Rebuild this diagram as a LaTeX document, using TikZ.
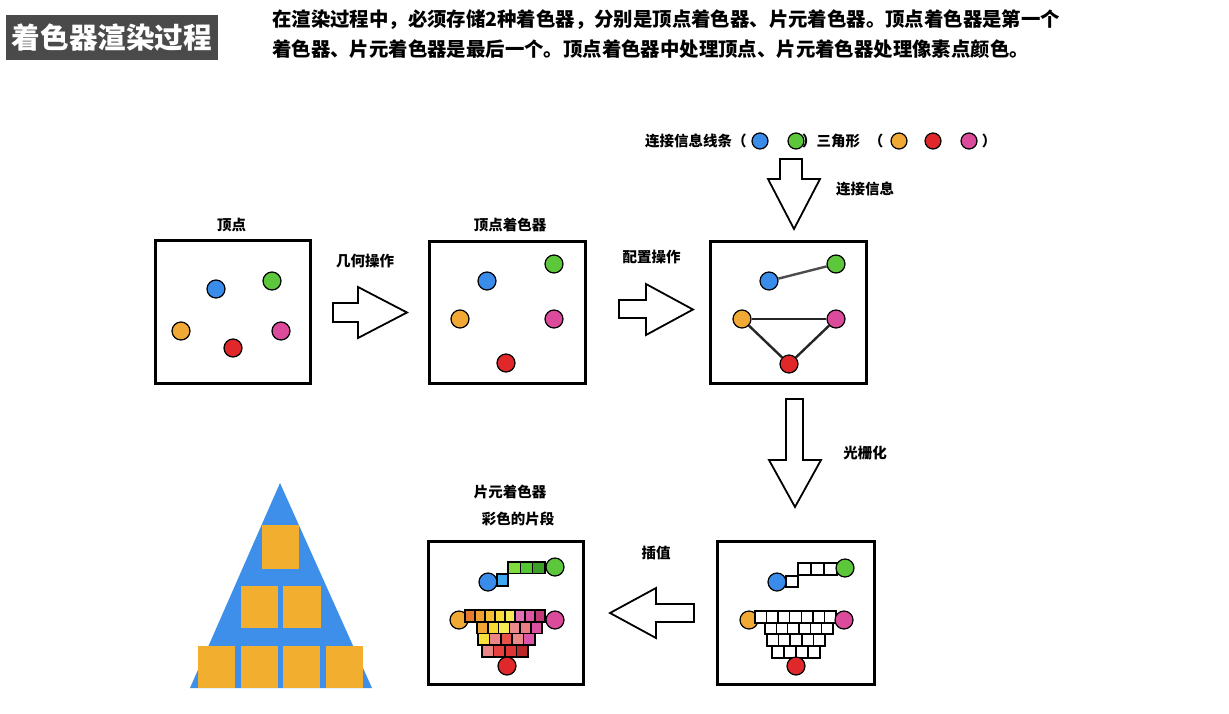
\documentclass[tikz,border=0pt]{standalone}
\usepackage{fontspec}
\setmainfont{Noto Sans CJK SC}
\definecolor{cblue}{HTML}{3A8CEA}
\definecolor{cgreen}{HTML}{5CC73A}
\definecolor{corange}{HTML}{F0A935}
\definecolor{cred}{HTML}{E0282B}
\definecolor{cpink}{HTML}{DC4A9C}
\definecolor{tblue}{HTML}{3D8FE9}
\definecolor{torange}{HTML}{F2AE2E}
\definecolor{titlegray}{HTML}{4A4A4A}
\begin{document}
\begin{tikzpicture}[x=1pt,y=-1pt,
  frame/.style={draw=black,line width=3pt,inner sep=0pt},
  vtx/.style={circle,draw=black,line width=1.2pt,minimum size=18pt,inner sep=0pt},
  lvtx/.style={vtx,minimum size=16pt},
  lbl/.style={font=\bfseries\fontsize{14.5}{16}\selectfont,inner sep=0pt},
  desc/.style={font=\bfseries\fontsize{19.4}{22}\selectfont,inner sep=0pt,anchor=west},
  blk/.style={draw=black,line width=1.8pt,fill=white,line join=miter},
  frag/.style={draw=black,line width=1.5pt},
  edge/.style={line width=2.4pt,draw=black!85}
]
\useasboundingbox (0,0) rectangle (1229,713);
\fill[white] (0,0) rectangle (1229,713);

% title
\node[fill=titlegray,minimum width=212pt,minimum height=45pt,inner sep=0pt,text=white,
  font=\bfseries\fontsize{28.6}{30}\selectfont] (title) at (112,37.5) {着色器渲染过程};
\node[desc] (d1) at (272,20) {在渲染过程中，必须存储2种着色器，分别是顶点着色器、片元着色器。顶点着色器是第一个};
\node[desc] (d2) at (272,49) {着色器、片元着色器是最后一个。顶点着色器中处理顶点、片元着色器处理像素点颜色。};

% frames
\node[frame,minimum width=155pt,minimum height=143pt] (b1) at (232.5,311.5) {};
\node[frame,minimum width=156pt,minimum height=142pt] (b2) at (507,312) {};
\node[frame,minimum width=156pt,minimum height=142pt] (b3) at (788,312) {};
\node[frame,minimum width=157pt,minimum height=143pt] (b4) at (796,612.5) {};
\node[frame,minimum width=155pt,minimum height=143pt] (b5) at (506,612.5) {};

% labels
\node[lbl] (l1) at (231.5,225) {顶点};
\node[lbl] (l2) at (510,225) {顶点着色器};
\node[lbl] (l3) at (365,261) {几何操作};
\node[lbl] (l4) at (651.5,257) {配置操作};
\node[lbl] (l5) at (865,189) {连接信息};
\node[lbl] (l6) at (865,453) {光栅化};
\node[lbl] (l7) at (656,553) {插值};
\node[lbl] (l8) at (510,492) {片元着色器};
\node[lbl] (l9) at (518,519) {彩色的片段};

% legend
\node[lbl,anchor=west] (lg1) at (645,141) {连接信息线条（};
\node[lvtx,fill=cblue] (lgb) at (760,141) {};
\node[lvtx,fill=cgreen] (lgg) at (796,141) {};
\node[lbl,anchor=west] (lg2) at (802,141) {）三角形};
\node[lbl] (lg3) at (876,141) {（};
\node[lvtx,fill=corange] (lgo) at (899,141) {};
\node[lvtx,fill=cred] (lgr) at (933,141) {};
\node[lvtx,fill=cpink] (lgp) at (969,141) {};
\node[lbl] (lg4) at (989,141) {）};

% box1 vertices
\node[vtx,fill=cblue] (a1) at (216,289) {};
\node[vtx,fill=cgreen] (a2) at (272,281) {};
\node[vtx,fill=corange] (a3) at (181,331) {};
\node[vtx,fill=cred] (a4) at (233,348) {};
\node[vtx,fill=cpink] (a5) at (281,331) {};

% box2 vertices
\node[vtx,fill=cblue] (c1) at (487,281) {};
\node[vtx,fill=cgreen] (c2) at (554,264) {};
\node[vtx,fill=corange] (c3) at (460,319) {};
\node[vtx,fill=cpink] (c5) at (554,319) {};
\node[vtx,fill=cred] (c4) at (506,363) {};

% box3 vertices and edges
\node[vtx,fill=cblue] (e1) at (769,281) {};
\node[vtx,fill=cgreen] (e2) at (836,264) {};
\node[vtx,fill=corange] (e3) at (742,319) {};
\node[vtx,fill=cpink] (e5) at (836,319) {};
\node[vtx,fill=cred] (e4) at (789,364) {};
\draw[edge,draw=black!70] (e1) -- (e2);
\draw[edge] (e3) -- (e5);
\draw[edge] (e3) -- (e4);
\draw[edge] (e4) -- (e5);

% block arrows
\draw[blk] (333,303) -- (358,303) -- (358,287) -- (407,312.5) -- (358,338) -- (358,322) -- (333,322) -- cycle;
\draw[blk] (619,300) -- (646,300) -- (646,284) -- (693,309.5) -- (646,335) -- (646,318) -- (619,318) -- cycle;
\draw[blk] (780,159) -- (802,159) -- (802,179) -- (820,179) -- (794,229) -- (768,179) -- (780,179) -- cycle;
\draw[blk] (786,399) -- (803,399) -- (803,460) -- (821,460) -- (795,507) -- (769,460) -- (786,460) -- cycle;
\draw[blk] (694,604) -- (656,604) -- (656,588) -- (610,613) -- (656,638) -- (656,622) -- (694,622) -- cycle;

% box4: rasterized white fragments
\node[vtx,fill=corange] (f3) at (749,620) {};
\draw[frag,fill=white] (786,576) rectangle (798,587);
\foreach \i in {0,1,2} {\draw[frag,fill=white] ({798+\i*13},563) rectangle ++(13,12);}
\foreach \i in {0,...,6} {\draw[frag,fill=white] ({755+\i*11.57},611) rectangle ++(11.57,12);}
\foreach \i in {0,...,5} {\draw[frag,fill=white] ({765+\i*11.33},623) rectangle ++(11.33,11);}
\foreach \i in {0,...,4} {\draw[frag,fill=white] ({767+\i*11.6},634) rectangle ++(11.6,12);}
\foreach \i in {0,...,3} {\draw[frag,fill=white] ({772+\i*12},646) rectangle ++(12,12);}
\node[vtx,fill=cblue] (f1) at (777,582) {};
\node[vtx,fill=cgreen] (f2) at (845,568) {};
\node[vtx,fill=cpink] (f5) at (844,620) {};
\node[vtx,fill=cred] (f4) at (796,666) {};

% box5: coloured fragments
\node[vtx,fill=corange] (g3) at (459,620) {};
\definecolor{lb}{HTML}{40A8F0}
\draw[frag,fill=lb] (497,574) rectangle (508,586);
\foreach \c [count=\i from 0] in {7EDC3C,55C435,3E9E2A} {\definecolor{tmp}{HTML}{\c}
  \draw[frag,fill=tmp] ({508+\i*12.3},562) rectangle ++(12.3,11.5);}
\foreach \c [count=\i from 0] in {E67A2E,F0A030,F6BE33,F9DC3B,F4E857,E070B0,DD56A3,C23A78} {\definecolor{tmp}{HTML}{\c}
  \draw[frag,fill=tmp] ({465+\i*10},610) rectangle ++(10,12);}
\foreach \c [count=\i from 0] in {F0A535,F8DA35,F5EE55,EA8A8A,E87F87,DD4FA0} {\definecolor{tmp}{HTML}{\c}
  \draw[frag,fill=tmp] ({477+\i*10.8},622) rectangle ++(10.8,11.5);}
\foreach \c [count=\i from 0] in {F8E03A,EC8585,E8504A,EC8A8A,DD55A8} {\definecolor{tmp}{HTML}{\c}
  \draw[frag,fill=tmp] ({478+\i*11.4},633.5) rectangle ++(11.4,11.5);}
\foreach \c [count=\i from 0] in {E98585,E64040,DD3535,B82828} {\definecolor{tmp}{HTML}{\c}
  \draw[frag,fill=tmp] ({482+\i*11.5},645) rectangle ++(11.5,12);}
\node[vtx,fill=cblue] (g1) at (488,582) {};
\node[vtx,fill=cgreen] (g2) at (555,567) {};
\node[vtx,fill=cpink] (g5) at (555,620) {};
\node[vtx,fill=cred] (g4) at (507,666) {};

% final fragment triangle
\fill[tblue] (280,483) -- (372,688) -- (190,688) -- cycle;
\fill[torange] (262,525) rectangle (299,569);
\fill[torange] (241,586) rectangle (278,628);
\fill[torange] (283,586) rectangle (321,628);
\foreach \x in {198,241,283,326} {\fill[torange] (\x,646) rectangle ++(37,42);}
\end{tikzpicture}
\end{document}
